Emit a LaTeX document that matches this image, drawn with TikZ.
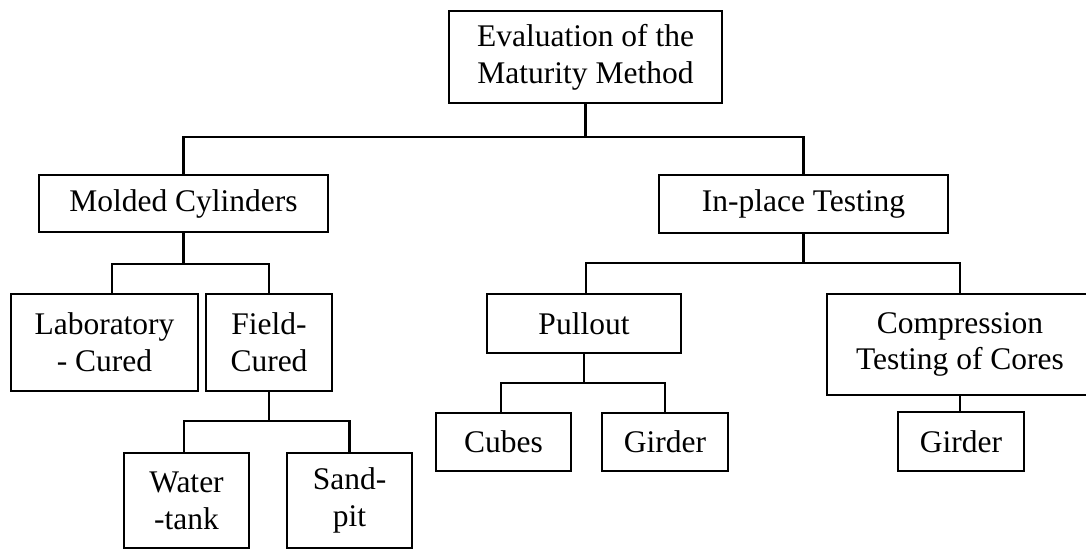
\documentclass[tikz,border=0pt]{standalone}
\usepackage{fontspec}
\setmainfont{Liberation Serif}
\begin{document}
\begin{tikzpicture}[x=1pt,y=-1pt,
  box/.style={draw=black, line width=2.6pt, rectangle, inner sep=0pt, align=center,
    font=\fontsize{31.5}{36.7}\selectfont, text=black},
  conn/.style={draw=black, line width=2.6pt}]
\useasboundingbox (0,0) rectangle (1086,549);
\clip (0,0) rectangle (1086,549);
% boxes
\node[box, minimum width=273pt, minimum height=92pt] (root) at (585.5,57) {Evaluation of the\\Maturity Method};
\node[box, minimum width=289pt, minimum height=57pt] (molded) at (183.5,203.5) {Molded Cylinders};
\node[box, minimum width=289pt, minimum height=58pt] (inplace) at (803.5,204) {In-place Testing};
\node[box, minimum width=187pt, minimum height=97pt] (lab) at (104.5,342.5) {Laboratory\\- Cured};
\node[box, minimum width=126pt, minimum height=97pt] (field) at (269,342.5) {Field-\\Cured};
\node[box, minimum width=125pt, minimum height=95pt] (water) at (186.5,500.5) {Water\\-tank};
\node[box, minimum width=125pt, minimum height=95pt] (sand) at (349.5,500.5) {Sand-\\pit};
\node[box, minimum width=194pt, minimum height=59pt] (pullout) at (584,323.5) {Pullout};
\node[box, minimum width=266pt, minimum height=101pt] (comp) at (960,344.5) {Compression\\Testing of Cores};
\node[box, minimum width=135pt, minimum height=58pt] (cubes) at (503.5,442) {Cubes};
\node[box, minimum width=126pt, minimum height=58pt] (girderA) at (665,442) {Girder};
\node[box, minimum width=126pt, minimum height=59pt] (girderB) at (961,441.5) {Girder};
% junctions
\coordinate (j1) at (585.5,137);
\coordinate (j2) at (183.5,264);
\coordinate (j3) at (269,421);
\coordinate (j4) at (803.5,263);
\coordinate (j5) at (584,383);
% connectors
\draw[conn] (root.south) -- (j1);
\draw[conn] (molded.north) -- (molded.north |- j1) -- (inplace.north |- j1) -- (inplace.north);
\draw[conn] (molded.south) -- (j2);
\draw[conn] ([xshift=7.5pt]lab.north) -- ([xshift=7.5pt]lab.north |- j2) -- (field.north |- j2) -- (field.north);
\draw[conn] (field.south) -- (j3);
\draw[conn] ([xshift=-2.5pt]water.north) -- ([xshift=-2.5pt]water.north |- j3) -- (sand.north |- j3) -- (sand.north);
\draw[conn] (inplace.south) -- (j4);
\draw[conn] ([xshift=2pt]pullout.north) -- ([xshift=2pt]pullout.north |- j4) -- (comp.north |- j4) -- (comp.north);
\draw[conn] (pullout.south) -- (j5);
\draw[conn] ([xshift=-2.5pt]cubes.north) -- ([xshift=-2.5pt]cubes.north |- j5) -- (girderA.north |- j5) -- (girderA.north);
\draw[conn] (comp.south) -- (comp.south |- girderB.north);
\end{tikzpicture}
\end{document}
